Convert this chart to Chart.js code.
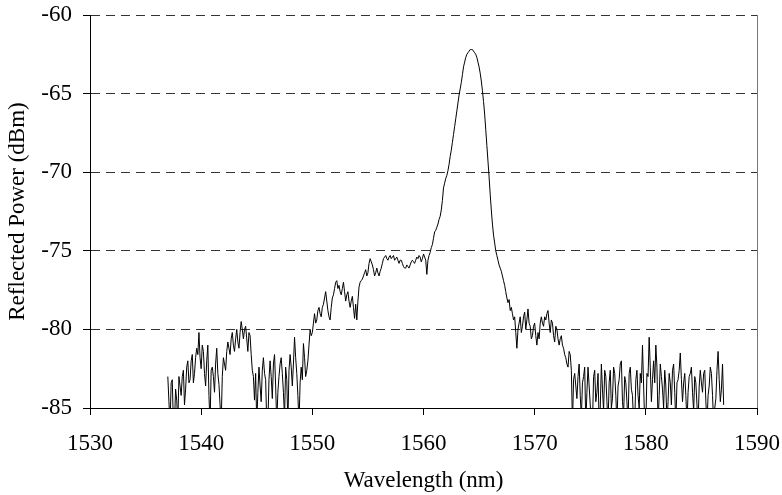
<!DOCTYPE html>
<html>
<head>
<meta charset="utf-8">
<script src="https://cdn.jsdelivr.net/npm/chart.js@4.4.1/dist/chart.umd.min.js"></script>
<style>
  body { margin: 0; background: #fff; }
  canvas { display: block; }
</style>
</head>
<body>
<canvas id="spectrum" width="782" height="495"></canvas>
<script>
// sampled every 0.1 nm starting at 1537.0 nm; values under -85 fall off the bottom
const wlStart = 1537.0;
const wlStep = 0.1;
const power = [
  -83.0, -84.6, -86, -83.4, -83.2, -86, -86, -83.8, -84.5, -86,          // 1537
  -83.0, -83.6, -84.2, -83.0, -82.6, -84.8, -83.8, -82.4, -82.0, -83.4,  // 1538
  -83.2, -82.0, -81.6, -83.4, -82.8, -81.8, -81.2, -81.6, -80.2, -81.8,  // 1539
  -82.5, -81.0, -81.4, -82.8, -83.6, -82.0, -81.0, -84.2, -86, -82.6,    // 1540
  -82.4, -83.0, -84.0, -82.2, -81.2, -82.8, -83.5, -84.8, -86, -83.0,    // 1541
  -81.8, -82.2, -82.6, -81.4, -80.8, -81.2, -81.6, -80.6, -80.2, -81.0,  // 1542
  -81.4, -80.6, -80.0, -80.8, -81.2, -80.2, -79.5, -80.0, -80.6, -80.0,  // 1543
  -79.8, -80.6, -81.4, -80.2, -80.4, -81.6, -82.6, -83.0, -84.5, -82.8,  // 1544
  -86, -84.0, -82.4, -83.6, -84.6, -82.6, -81.8, -82.8, -83.2, -86,      // 1545
  -86, -83.2, -82.0, -83.0, -84.4, -82.2, -81.6, -83.6, -86, -84.0,      // 1546
  -83.0, -82.2, -81.8, -82.8, -84.0, -85.6, -82.4, -83.2, -86, -82.6,    // 1547
  -81.6, -82.4, -83.6, -82.2, -80.5, -81.8, -82.8, -84.2, -86, -83.4,    // 1548
  -82.4, -83.2, -80.9, -81.8, -83.0, -82.6, -82.0, -81.0, -80.0, -80.4,  // 1549
  -80.2, -79.6, -79.0, -79.6, -79.4, -78.8, -78.6, -79.0, -79.2, -78.6,  // 1550
  -78.4, -78.0, -77.6, -78.2, -78.8, -79.2, -79.4, -78.6, -78.0, -77.8,  // 1551
  -77.4, -77.0, -76.9, -77.4, -77.2, -77.6, -77.8, -77.4, -77.0, -77.6,  // 1552
  -78.2, -77.8, -77.6, -78.2, -78.6, -78.2, -77.9, -78.6, -79.3, -78.4,  // 1553
  -79.4, -78.2, -77.3, -77.0, -76.9, -76.8, -76.6, -76.4, -76.2, -76.6,  // 1554
  -76.4, -75.8, -75.5, -75.7, -75.9, -76.2, -76.6, -76.4, -76.1, -76.4,  // 1555
  -76.6, -76.3, -76.1, -75.8, -75.5, -75.4, -75.3, -75.5, -75.6, -75.4,  // 1556
  -75.3, -75.5, -75.4, -75.3, -75.6, -75.5, -75.4, -75.6, -75.8, -75.6,  // 1557
  -75.6, -75.8, -76.0, -76.1, -76.1, -75.9, -76.0, -76.1, -75.9, -75.7,  // 1558
  -75.6, -75.7, -75.8, -75.6, -75.4, -75.5, -75.3, -75.4, -75.7, -75.5,  // 1559
  -75.2, -75.4, -75.6, -76.5, -75.6, -75.3, -75.1, -74.8, -74.6, -74.2,  // 1560
  -73.8, -73.7, -73.5, -73.3, -73.0, -72.8, -72.4, -71.8, -71.0, -70.7,  // 1561
  -70.4, -70.2, -69.9, -69.5, -69.0, -68.6, -68.1, -67.6, -67.1, -66.6,  // 1562
  -66.1, -65.6, -65.1, -64.7, -64.3, -63.8, -63.3, -63.0, -62.7, -62.5,  // 1563
  -62.4, -62.3, -62.2, -62.2, -62.2, -62.3, -62.4, -62.5, -62.7, -63.0,  // 1564
  -63.3, -63.7, -64.2, -64.8, -65.5, -66.3, -67.3, -68.3, -69.3, -70.3,  // 1565
  -71.4, -72.4, -73.3, -74.0, -74.5, -75.0, -75.3, -75.6, -75.9, -76.1,  // 1566
  -76.3, -76.6, -76.9, -77.2, -77.6, -78.0, -78.3, -78.1, -78.8, -78.6,  // 1567
  -79.0, -79.4, -79.2, -80.2, -81.2, -80.0, -79.6, -79.2, -80.2, -79.8,  // 1568
  -79.2, -78.9, -80.0, -79.4, -78.7, -79.6, -79.8, -80.6, -80.4, -79.8,  // 1569
  -79.6, -80.4, -81.0, -80.2, -80.6, -79.6, -79.2, -79.6, -79.8, -79.2,  // 1570
  -79.4, -79.0, -78.8, -79.6, -80.2, -79.4, -79.6, -80.4, -80.8, -79.8,  // 1571
  -80.0, -80.6, -81.0, -80.6, -80.4, -81.0, -81.2, -81.6, -81.8, -82.2,  // 1572
  -82.4, -81.4, -81.6, -82.6, -86, -83.2, -82.8, -83.6, -84.4, -83.0,    // 1573
  -82.2, -84.2, -85.6, -83.4, -83.0, -82.4, -86, -84.0, -82.4, -83.6,    // 1574
  -84.8, -86, -86, -83.0, -82.6, -84.6, -84.0, -82.8, -86, -85.0,        // 1575
  -82.2, -83.8, -85.2, -82.6, -83.0, -84.6, -86, -83.4, -82.6, -85.0,    // 1576
  -84.4, -82.4, -82.8, -84.2, -86, -83.6, -83.2, -82.2, -82.0, -84.6,    // 1577
  -85.4, -83.0, -83.4, -84.6, -86, -82.8, -82.4, -83.8, -84.2, -86,      // 1578
  -86, -83.2, -82.6, -84.2, -85.0, -82.8, -83.4, -81.0, -83.6, -86,      // 1579
  -86, -82.8, -83.0, -80.5, -82.4, -84.6, -83.2, -82.0, -83.4, -81.0,    // 1580
  -82.4, -86, -84.2, -82.2, -83.0, -83.8, -85.0, -82.6, -83.6, -86,      // 1581
  -84.6, -82.8, -83.4, -84.8, -82.6, -82.2, -84.0, -86, -83.4, -83.2,    // 1582
  -82.6, -81.5, -83.2, -84.6, -83.4, -82.8, -84.2, -86, -84.0, -83.0,    // 1583
  -82.8, -82.4, -84.0, -85.2, -83.0, -83.4, -84.8, -86, -83.6, -82.6,    // 1584
  -83.4, -84.0, -82.8, -82.6, -84.6, -86, -84.2, -83.6, -82.4, -82.8,    // 1585
  -84.2, -86, -85.0, -84.4, -82.6, -81.4, -83.2, -84.6, -83.8, -82.2,    // 1586
  -84.8                                                                  // 1587
];

const xTicks = [1530, 1540, 1550, 1560, 1570, 1580, 1590];
const yTicks = [-85, -80, -75, -70, -65, -60];

const points = power.map((p, i) => ({ x: +(wlStart + i * wlStep).toFixed(1), y: p }));

const serif = { family: '"Liberation Serif", "Times New Roman", serif', size: 23 };

// right-hand frame line
const frameRight = {
    id: 'frameRight',
    afterDraw(chart) {
        const { ctx, chartArea } = chart;
        ctx.save();
        ctx.strokeStyle = '#777';
        ctx.lineWidth = 1;
        ctx.beginPath();
        ctx.moveTo(chartArea.right + 0.5, chartArea.top);
        ctx.lineTo(chartArea.right + 0.5, chartArea.bottom);
        ctx.stroke();
        ctx.restore();
    }
};

new Chart(document.getElementById('spectrum'), {
    type: 'line',
    data: {
        datasets: [{
            data: points,
            borderColor: '#000',
            borderWidth: 1,
            pointRadius: 0,
            tension: 0,
            fill: false
        }]
    },
    options: {
        responsive: false,
        animation: false,
        layout: { padding: { left: 0, right: 25, top: 15, bottom: 0 } },
        plugins: { legend: { display: false }, tooltip: { enabled: false } },
        scales: {
            x: {
                type: 'linear',
                min: 1530,
                max: 1590,
                afterBuildTicks: s => { s.ticks = xTicks.map(v => ({ value: v })); },
                afterFit: s => { s.height = 87; s.paddingLeft = 0; s.paddingRight = 0; },
                ticks: { color: '#000', font: serif, padding: 15, maxRotation: 0, callback: v => String(v) },
                grid: { drawOnChartArea: false, drawTicks: true, tickLength: 7, tickColor: '#000' },
                border: { color: '#000', width: 1 },
                title: { display: true, text: 'Wavelength (nm)', color: '#000', font: serif, padding: { top: 0, bottom: 0 } }
            },
            y: {
                min: -85,
                max: -60,
                afterBuildTicks: s => { s.ticks = yTicks.map(v => ({ value: v })); },
                afterFit: s => { s.width = 90; s.paddingTop = 0; s.paddingBottom = 0; },
                ticks: { color: '#000', font: serif, padding: 11 },
                grid: { color: '#333', lineWidth: 1, tickLength: 7, tickColor: '#000' },
                border: { color: '#000', width: 1, dash: [9, 6] },
                title: { display: true, text: 'Reflected Power (dBm)', color: '#000', font: serif, padding: { top: 4, bottom: 0 } }
            }
        }
    },
    plugins: [frameRight]
});
</script>
</body>
</html>
